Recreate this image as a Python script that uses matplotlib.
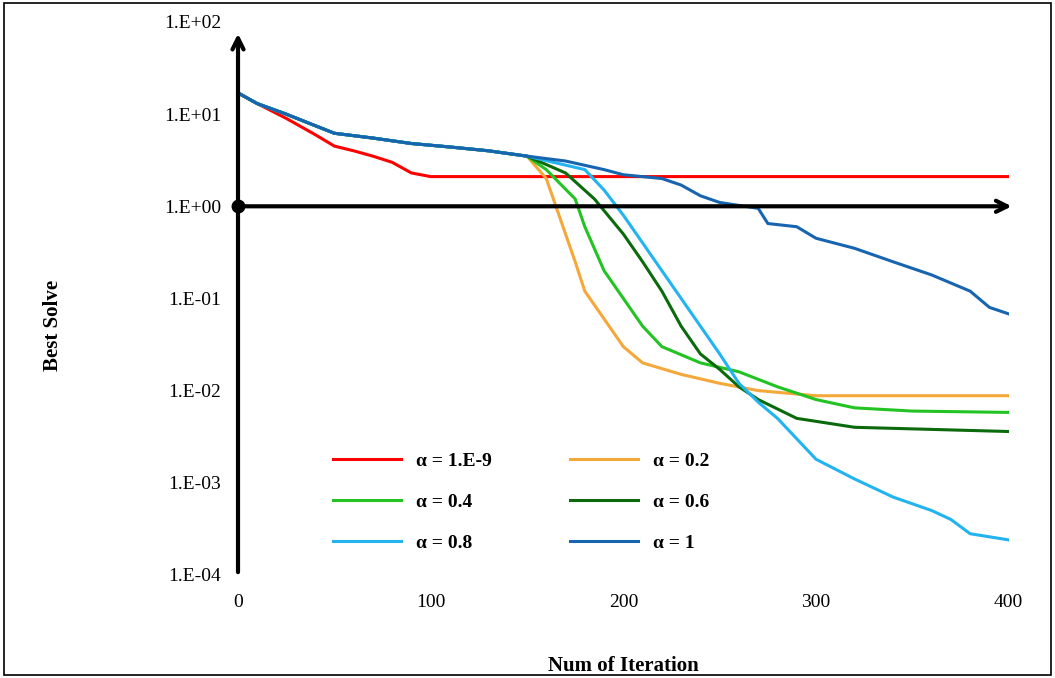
import matplotlib.pyplot as plt
import numpy as np
from matplotlib.patches import Rectangle

plt.rcParams['font.family'] = ['Liberation Serif', 'DejaVu Serif']

start_x = [0, 10, 25, 40, 50, 70, 90, 110, 130, 150]
start_y = [17, 13, 10, 7.5, 6.2, 5.5, 4.8, 4.4, 4.0, 3.5]

red_x = [0, 10, 25, 40, 50, 60, 70, 80, 90, 100, 400]
red_y = [17, 13, 9, 6, 4.5, 4.0, 3.5, 3.0, 2.3, 2.1, 2.1]

a02_x = [150, 160, 165, 170, 175, 180, 190, 200, 210, 230, 250, 270, 300, 400]
a02_y = [3.0, 2.0, 1.0, 0.5, 0.25, 0.12, 0.06, 0.03, 0.02, 0.015, 0.012, 0.01, 0.0088, 0.0088]

a04_x = [150, 160, 175, 180, 190, 200, 210, 220, 240, 260, 280, 300, 320, 350, 400]
a04_y = [3.2, 2.5, 1.2, 0.6, 0.2, 0.1, 0.05, 0.03, 0.02, 0.016, 0.011, 0.008, 0.0065, 0.006, 0.0058]

a06_x = [150, 170, 185, 200, 210, 220, 230, 240, 250, 260, 270, 290, 320, 400]
a06_y = [3.4, 2.3, 1.2, 0.5, 0.25, 0.12, 0.05, 0.025, 0.017, 0.011, 0.008, 0.005, 0.004, 0.0036]

a08_x = [150, 180, 190, 200, 210, 220, 230, 240, 250, 260, 270, 280, 290, 300, 320, 340, 360, 370, 380, 400]
a08_y = [3.3, 2.5, 1.5, 0.8, 0.4, 0.2, 0.1, 0.05, 0.025, 0.012, 0.0075, 0.005, 0.003, 0.0018,
         0.0011, 0.0007, 0.0005, 0.0004, 0.00028, 0.00024]

a1_x = [150, 170, 190, 200, 220, 230, 240, 250, 270, 275, 290, 300, 320, 340, 360, 380, 390, 400]
a1_y = [3.5, 3.1, 2.5, 2.2, 2.0, 1.7, 1.3, 1.1, 0.95, 0.65, 0.6, 0.45, 0.35, 0.25, 0.18, 0.12, 0.08, 0.068]

labels = ['α = 1.E-9', 'α = 0.2', 'α = 0.4', 'α = 0.6', 'α = 0.8', 'α = 1']
colors = ['#ff0000', '#f4a83a', '#22c322', '#0b6a0b', '#22b4f0', '#1764b0']

fig = plt.figure(figsize=(10.55, 6.78), dpi=100)
ax = fig.add_axes([0.2256, 0.152, 0.7305, 0.8156])
ax.set_yscale('log')
ax.set_xlim(0, 400)
ax.set_ylim(1e-4, 1e2)

series = [(red_x, red_y)]
for sx, sy in [(a02_x, a02_y), (a04_x, a04_y), (a06_x, a06_y), (a08_x, a08_y), (a1_x, a1_y)]:
    series.append((start_x + sx[1:], start_y + sy[1:]))

handles = []
for (sx, sy), lab, c in zip(series, labels, colors):
    h, = ax.plot(sx, sy, color=c, lw=2.2, label=lab)
    handles.append(h)

for s in ax.spines.values():
    s.set_visible(False)
ax.tick_params(length=0, labelsize=14)
ax.set_xticks([0, 100, 200, 300, 400])
ax.set_yticks([1e-4, 1e-3, 1e-2, 1e-1, 1, 10, 100])
ax.set_yticklabels(['1.E-04', '1.E-03', '1.E-02', '1.E-01', '1.E+00', '1.E+01', '1.E+02'])
ax.minorticks_off()
ax.tick_params(axis='x', pad=14)
ax.tick_params(axis='y', pad=12)

arrow = dict(arrowstyle='->,head_length=0.8,head_width=0.4', lw=3, color='black')
ax.annotate('', xy=(0, 80), xytext=(0, 1e-4), arrowprops=arrow, annotation_clip=False)
ax.annotate('', xy=(403, 1), xytext=(0, 1), arrowprops=arrow, annotation_clip=False)
ax.plot([0], [1], 'o', color='black', ms=9, clip_on=False)

ax.set_xlabel('Num of Iteration', fontsize=15, fontweight='bold', labelpad=32)
fig.text(0.05, 0.52, 'Best Solve', rotation=90, fontsize=15, fontweight='bold', va='center', ha='center')

order = [0, 2, 4, 1, 3, 5]
ax.legend(handles=[handles[i] for i in order], ncol=2, frameon=False, loc='lower left',
          bbox_to_anchor=(0.1, 0.01), prop={'weight': 'bold', 'size': 14},
          handlelength=3.5, columnspacing=4, labelspacing=1.2)

fig.add_artist(Rectangle((0.004, 0.004), 0.992, 0.992, transform=fig.transFigure,
                         fill=False, lw=1.2, ec='black'))
fig.savefig('out.png')
